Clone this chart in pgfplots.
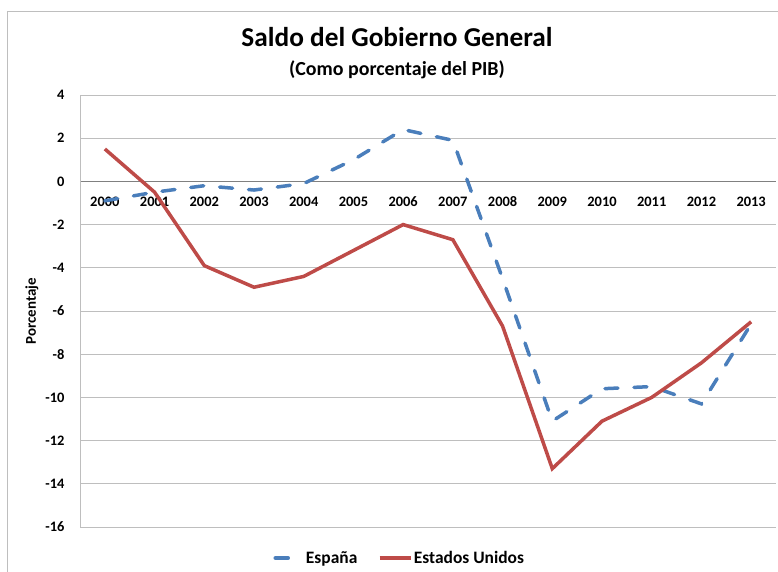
\documentclass[border=0pt]{standalone}
\usepackage{pgfplots}
\pgfplotsset{compat=1.18}
\usepackage{fontspec}
\setmainfont{Carlito}
\definecolor{esp}{RGB}{74,126,187}
\definecolor{usa}{RGB}{190,75,72}
\definecolor{gridc}{RGB}{190,190,190}
\begin{document}
\begin{tikzpicture}[x=1bp,y=1bp]
\path[use as bounding box] (0,0) rectangle (778,572);
\draw[gridc,line width=0.8bp] (7,0) -- (7,561) -- (778,561);
\node[font=\bfseries\fontsize{27.4}{30}\selectfont] at (397,535) {Saldo del Gobierno General};
\node[font=\bfseries\fontsize{20}{22}\selectfont] at (397,502) {(Como porcentaje del PIB)};
\begin{axis}[
  at={(80bp,45bp)}, anchor=south west,
  scale only axis, width=696bp, height=432bp,
  xmin=-0.5, xmax=13.5, ymin=-16, ymax=4,
  axis x line*=middle, axis y line*=left,
  axis line style={draw=gridc,line width=0.8bp},
  x axis line style={draw=black!50},
  ytick={-16,-14,...,4},
  xtick={0,...,13},
  xticklabels={2000,2001,2002,2003,2004,2005,2006,2007,2008,2009,2010,2011,2012,2013},
  major tick length=0pt,
  ymajorgrids, grid style={draw=gridc,line width=0.8bp},
  tick label style={font=\bfseries\fontsize{14.5}{16}\selectfont},
  /pgf/number format/assume math mode=true,
  xticklabel style={anchor=center, yshift=-20bp},
  yticklabel style={anchor=east, xshift=-12bp},
  ylabel={Porcentaje},
  ylabel style={font=\bfseries\fontsize{15}{17}\selectfont, at={(rel axis cs:0,0.5)}, anchor=center, xshift=0bp, yshift=48bp},
  legend style={at={(0.459,-0.0718)}, anchor=center, draw=none, legend columns=2,
    font=\bfseries\fontsize{17.5}{19}\selectfont,
    nodes={inner sep=1.5bp},
    /tikz/every even column/.append style={column sep=19bp}},
  clip=false,
]
\addplot[esp, line width=3.5bp, line cap=round, dash pattern=on 13bp off 16bp,
  legend image code/.code={\draw[esp,line width=3.5bp,line cap=round,dash pattern=on 13bp off 60bp] (1.75bp,0bp) -- (29.25bp,0bp);}] coordinates {
(0,-0.9) (1,-0.5) (2,-0.2) (3,-0.4) (4,-0.1) (5,1.0) (6,2.4) (7,1.9)
(8,-4.5) (9,-11.1) (10,-9.6) (11,-9.5) (12,-10.3) (13,-6.6)};
\addlegendentry{España}
\addplot[usa, line width=3.5bp,
  legend image code/.code={\draw[usa,solid,line width=3.5bp] (0bp,0bp) -- (31bp,0bp);}] coordinates {
(0,1.5) (1,-0.5) (2,-3.9) (3,-4.9) (4,-4.4) (5,-3.2) (6,-2.0) (7,-2.7)
(8,-6.7) (9,-13.3) (10,-11.1) (11,-10.0) (12,-8.4) (13,-6.5)};
\addlegendentry{Estados Unidos}
\end{axis}
\end{tikzpicture}
\end{document}
